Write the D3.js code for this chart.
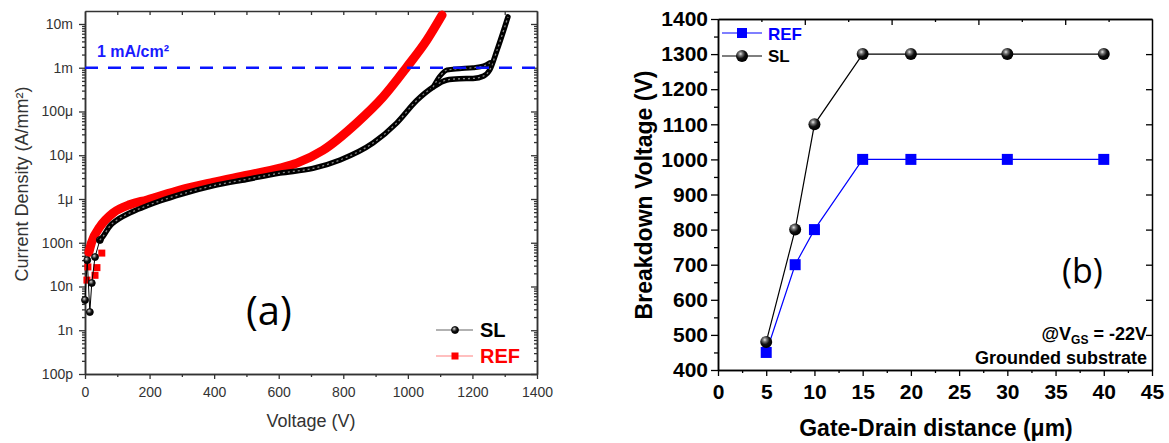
<!DOCTYPE html>
<html><head><meta charset="utf-8">
<script src="https://cdn.jsdelivr.net/npm/d3@7"></script>
<style>body{margin:0;background:#fff;} svg{display:block;font-family:"Liberation Sans",Arial,sans-serif;}</style>
</head><body><svg id="c" width="1169" height="443"></svg>
<script>
// ---------- Panel (a) data: J-V curves ----------
const refV = [12, 20, 46, 87, 140, 192, 294, 396, 502, 604, 656, 737, 842, 923, 997, 1059, 1106];
const refJ = [6e-8, 1e-7, 2.3e-7, 4.8e-7, 7.5e-7, 9.5e-7, 1.6e-6, 2.4e-6, 3.5e-6, 5.1e-6, 6.6e-6, 1.3e-5, 5.5e-5, 2.14e-4, 1.04e-3, 4.3e-3, 1.6e-2];
const refScatterV = [6, 9, 31, 37, 52];
const refScatterJ = [1.4e-8, 2.8e-8, 1.8e-8, 2.7e-8, 5.8e-8];

const slEarlyV = [0, 7, 15, 21, 31, 46];
const slEarlyJ = [4.9e-9, 4.0e-8, 2.6e-9, 1.2e-8, 4.7e-8, 1.15e-7];
const slV = [46, 56, 77, 99, 149, 192, 232, 300, 396, 500, 604, 706, 790, 892, 966, 1028, 1078, 1121, 1160, 1202, 1235, 1254, 1276, 1300, 1310];
const slJ = [1.15e-7, 1.4e-7, 2.4e-7, 3.3e-7, 5.2e-7, 7e-7, 9e-7, 1.3e-6, 2.0e-6, 2.8e-6, 3.9e-6, 5.0e-6, 7.8e-6, 1.9e-5, 5.5e-5, 1.8e-4, 3.6e-4, 5.25e-4, 5.6e-4, 5.7e-4, 6.5e-4, 9e-4, 2.5e-3, 8.5e-3, 1.45e-2];
const slUpV = [1078, 1100, 1121, 1160, 1202, 1235, 1254];
const slUpJ = [3.6e-4, 6.5e-4, 8.9e-4, 9.5e-4, 1.0e-3, 1.1e-3, 1.3e-3];

const xTicksA = [0, 200, 400, 600, 800, 1000, 1200, 1400];
const yTicksA = [1e-10, 1e-9, 1e-8, 1e-7, 1e-6, 1e-5, 1e-4, 1e-3, 1e-2];
const yTickLabelsA = ["100p", "1n", "10n", "100n", "1μ", "10μ", "100μ", "1m", "10m"];
const limitJ = 1e-3;

// ---------- Panel (b) data: breakdown voltage ----------
const gd = [5, 8, 10, 15, 20, 30, 40];
const bvRef = [450, 700, 800, 1000, 1000, 1000, 1000];
const bvSL = [480, 800, 1100, 1300, 1300, 1300, 1300];
const xTicksB = [0, 5, 10, 15, 20, 25, 30, 35, 40, 45];
const yTicksB = [400, 500, 600, 700, 800, 900, 1000, 1100, 1200, 1300, 1400];

const svg = d3.select('#c');
const defs = svg.append('defs');
const g = defs.append('radialGradient').attr('id', 'sph').attr('cx', 0.38).attr('cy', 0.32).attr('r', 0.65);
g.append('stop').attr('offset', '0%').attr('stop-color', '#e8e8e8');
g.append('stop').attr('offset', '25%').attr('stop-color', '#777');
g.append('stop').attr('offset', '60%').attr('stop-color', '#111');
g.append('stop').attr('offset', '100%').attr('stop-color', '#000');

// ================= Panel (a) =================
const xA = d3.scaleLinear().domain([0, 1400]).range([85, 537]);
const yA = d3.scaleLog().domain([1e-10, 0.0198]).range([374, 11]);
const A = svg.append('g');
const gray = '#333';

function styleAxis(sel, color, fs, weight) {
  sel.selectAll('path').attr('stroke', color).attr('stroke-width', 1.5);
  sel.selectAll('line').attr('stroke', color).attr('stroke-width', 1.3);
  sel.selectAll('text').attr('fill', color).attr('font-size', fs).attr('font-weight', weight || 'normal')
    .attr('font-family', '"Liberation Sans",Arial,sans-serif');
}
const minorA = [];
for (let e = -10; e < -1; e++) for (let k = 2; k <= 9; k++) { const v = k * Math.pow(10, e); if (v < 0.0198) minorA.push(v); }
const xMinorA = d3.range(100, 1400, 200);
const xAllA = d3.range(100, 1400, 100);

// bottom
A.append('g').attr('transform', 'translate(0,374)')
  .call(d3.axisBottom(xA).tickValues(xTicksA).tickSize(5).tickPadding(8).tickSizeOuter(0).tickFormat(d3.format('d')))
  .call(s => styleAxis(s, gray, 14));
A.append('g').attr('transform', 'translate(0,374)')
  .call(d3.axisBottom(xA).tickValues(xMinorA).tickSize(3).tickFormat('').tickSizeOuter(0))
  .call(s => styleAxis(s, gray, 14));
// top (inward)
A.append('g').attr('transform', 'translate(0,11)')
  .call(d3.axisBottom(xA).tickValues(xAllA).tickSize(4).tickFormat('').tickSizeOuter(0))
  .call(s => styleAxis(s, gray, 14));
// left
A.append('g').attr('transform', 'translate(85,0)')
  .call(d3.axisLeft(yA).tickValues(yTicksA).tickSize(6).tickPadding(6).tickSizeOuter(0)
    .tickFormat((d, i) => yTickLabelsA[i]))
  .call(s => styleAxis(s, gray, 14));
A.append('g').attr('transform', 'translate(85,0)')
  .call(d3.axisLeft(yA).tickValues(minorA).tickSize(3).tickFormat('').tickSizeOuter(0))
  .call(s => styleAxis(s, gray, 14));
// right (inward)
A.append('g').attr('transform', 'translate(537,0)')
  .call(d3.axisLeft(yA).tickValues(yTicksA).tickSize(6).tickFormat('').tickSizeOuter(0))
  .call(s => styleAxis(s, gray, 14));
A.append('g').attr('transform', 'translate(537,0)')
  .call(d3.axisLeft(yA).tickValues(minorA).tickSize(3).tickFormat('').tickSizeOuter(0))
  .call(s => styleAxis(s, gray, 14));

// axis titles
A.append('text').attr('x', 311).attr('y', 427).attr('text-anchor', 'middle')
  .attr('font-size', 18).attr('fill', gray).text('Voltage (V)');
A.append('text').attr('transform', 'translate(28,184) rotate(-90)').attr('text-anchor', 'middle')
  .attr('font-size', 18).attr('fill', gray).text('Current Density (A/mm²)');

// curves
const lineA = d3.line().x(d => xA(d[0])).y(d => yA(d[1])).curve(d3.curveMonotoneX);
const refPts = refV.map((v, i) => [v, refJ[i]]);
const slPts = slV.map((v, i) => [v, slJ[i]]);
const slUpPts = slUpV.map((v, i) => [v, slUpJ[i]]);
const slEarlyPts = slEarlyV.map((v, i) => [v, slEarlyJ[i]]);

A.append('path').attr('d', lineA(refPts)).attr('fill', 'none').attr('stroke', '#ff0000').attr('stroke-width', 9)
  .attr('stroke-linecap', 'round');
A.selectAll('.rsq').data(refScatterV.map((v, i) => [v, refScatterJ[i]])).enter().append('rect')
  .attr('x', d => xA(d[0]) - 3.5).attr('y', d => yA(d[1]) - 3.5).attr('width', 7).attr('height', 7).attr('fill', '#ff0000');

const lineLin = d3.line().x(d => xA(d[0])).y(d => yA(d[1]));
A.append('path').attr('d', lineLin(slEarlyPts)).attr('fill', 'none').attr('stroke', '#000').attr('stroke-width', 1);
A.selectAll('.scir').data(slEarlyPts).enter().append('circle')
  .attr('cx', d => xA(d[0])).attr('cy', d => yA(d[1])).attr('r', 3.5).attr('fill', 'url(#sph)').attr('stroke', '#000').attr('stroke-width', 0.8);
[slPts, slUpPts].forEach((pts, k) => {
  A.append('path').attr('d', lineA(pts)).attr('fill', 'none').attr('stroke', '#000').attr('stroke-width', k ? 5 : 5.5).attr('stroke-linecap', 'round');
  A.append('path').attr('d', lineA(pts)).attr('fill', 'none').attr('stroke', '#888').attr('stroke-width', 1.3).attr('stroke-dasharray', '2,3');
});

// 1 mA/cm2 line
A.append('line').attr('x1', 85).attr('x2', 541).attr('y1', yA(limitJ)).attr('y2', yA(limitJ))
  .attr('stroke', '#0a14ff').attr('stroke-width', 2.5).attr('stroke-dasharray', '13,10');
A.append('text').attr('x', 97).attr('y', 57).attr('font-size', 16).attr('font-weight', 'bold').attr('fill', '#1a1aff').text('1 mA/cm²');

// legend
const legA = [{ name: 'SL', color: '#000', line: '#666', y: 330, ty: 337, m: 'c' }, { name: 'REF', color: '#ff0000', line: '#ff8080', y: 356, ty: 363, m: 's' }];
legA.forEach(l => {
  A.append('line').attr('x1', 436).attr('x2', 473).attr('y1', l.y).attr('y2', l.y).attr('stroke', l.line).attr('stroke-width', 1.2);
  if (l.m === 'c') A.append('circle').attr('cx', 455).attr('cy', l.y).attr('r', 3.5).attr('fill', 'url(#sph)').attr('stroke', '#000').attr('stroke-width', 0.8);
  else A.append('rect').attr('x', 451.5).attr('y', l.y - 3.5).attr('width', 7).attr('height', 7).attr('fill', '#ff0000');
  A.append('text').attr('x', 480).attr('y', l.ty).attr('font-size', 20).attr('font-weight', 'bold').attr('fill', l.color).text(l.name);
});
A.append('text').attr('x', 246).attr('y', 325).attr('font-size', 40).attr('font-family', '"Open Sans",sans-serif').attr('fill', '#000').text('(a)');

// ================= Panel (b) =================
const xB = d3.scaleLinear().domain([0, 45]).range([718, 1152]);
const yB = d3.scaleLinear().domain([400, 1400]).range([370, 19]);
const xTop = d3.scaleLinear().domain([0, 10]).range([718, 1152]);
const B = svg.append('g');
B.append('g').attr('transform', 'translate(0,370)')
  .call(d3.axisBottom(xB).tickValues(xTicksB).tickSize(6).tickPadding(8).tickSizeOuter(0).tickFormat(d3.format('d')))
  .call(s => styleAxis(s, '#000', 21, 'bold'));
B.append('g').attr('transform', 'translate(0,370)')
  .call(d3.axisBottom(xB).tickValues(d3.range(2.5, 45, 5)).tickSize(3).tickFormat('').tickSizeOuter(0))
  .call(s => styleAxis(s, '#000', 21));
B.append('g').attr('transform', 'translate(0,19)')
  .call(d3.axisBottom(xTop).tickValues([2, 4, 6, 8]).tickSize(6).tickFormat('').tickSizeOuter(0))
  .call(s => styleAxis(s, '#000', 21));
B.append('g').attr('transform', 'translate(0,19)')
  .call(d3.axisBottom(xTop).tickValues([1, 3, 5, 7, 9]).tickSize(3).tickFormat('').tickSizeOuter(0))
  .call(s => styleAxis(s, '#000', 21));
B.append('g').attr('transform', 'translate(718,0)')
  .call(d3.axisLeft(yB).tickValues(yTicksB).tickSize(7).tickPadding(3).tickSizeOuter(0).tickFormat(d3.format('d')))
  .call(s => styleAxis(s, '#000', 21, 'bold'));
B.append('g').attr('transform', 'translate(718,0)')
  .call(d3.axisLeft(yB).tickValues(d3.range(450, 1400, 100)).tickSize(4).tickFormat('').tickSizeOuter(0))
  .call(s => styleAxis(s, '#000', 21));
B.append('g').attr('transform', 'translate(1152,0)')
  .call(d3.axisRight(yB).tickValues(yTicksB.slice(1, -1)).tickSize(-6).tickFormat('').tickSizeOuter(0))
  .call(s => styleAxis(s, '#000', 21));

B.append('text').attr('x', 936).attr('y', 436).attr('text-anchor', 'middle').attr('font-size', 23)
  .attr('font-weight', 'bold').text('Gate-Drain distance (μm)');
B.append('text').attr('transform', 'translate(652,195) rotate(-90)').attr('text-anchor', 'middle')
  .attr('font-size', 23).attr('font-weight', 'bold').text('Breakdown Voltage (V)');

const lineB = d3.line().x(d => xB(d[0])).y(d => yB(d[1]));
const refB = gd.map((v, i) => [v, bvRef[i]]);
const slB = gd.map((v, i) => [v, bvSL[i]]);
B.append('path').attr('d', lineB(refB)).attr('fill', 'none').attr('stroke', '#0000ff').attr('stroke-width', 1.2);
B.append('path').attr('d', lineB(slB)).attr('fill', 'none').attr('stroke', '#000').attr('stroke-width', 1.2);
B.selectAll('.bsq').data(refB).enter().append('rect')
  .attr('x', d => xB(d[0]) - 5.5).attr('y', d => yB(d[1]) - 5.5).attr('width', 11).attr('height', 11).attr('fill', '#0000ff');
B.selectAll('.bci').data(slB).enter().append('circle')
  .attr('cx', d => xB(d[0])).attr('cy', d => yB(d[1])).attr('r', 6).attr('fill', 'url(#sph)');

// legend (b)
B.append('line').attr('x1', 722).attr('x2', 762).attr('y1', 33).attr('y2', 33).attr('stroke', '#0000ff').attr('stroke-width', 1.2);
B.append('rect').attr('x', 737).attr('y', 28).attr('width', 10).attr('height', 10).attr('fill', '#0000ff');
B.append('text').attr('x', 768).attr('y', 39.5).attr('font-size', 17).attr('font-weight', 'bold').attr('fill', '#0000ff').text('REF');
B.append('line').attr('x1', 722).attr('x2', 762).attr('y1', 56).attr('y2', 56).attr('stroke', '#000').attr('stroke-width', 1.2);
B.append('circle').attr('cx', 742).attr('cy', 56).attr('r', 6).attr('fill', 'url(#sph)');
B.append('text').attr('x', 768).attr('y', 62).attr('font-size', 17).attr('font-weight', 'bold').attr('fill', '#000').text('SL');

B.append('text').attr('x', 1062).attr('y', 283).attr('font-size', 34).attr('font-family', '"Open Sans",sans-serif').text('(b)');
const t1 = B.append('text').attr('x', 1147).attr('y', 340).attr('text-anchor', 'end').attr('font-size', 18).attr('font-weight', 'bold');
t1.append('tspan').text('@V');
t1.append('tspan').attr('font-size', 12).attr('dy', 4).text('GS');
t1.append('tspan').attr('dy', -4).text(' = -22V');
B.append('text').attr('x', 1147).attr('y', 364).attr('text-anchor', 'end').attr('font-size', 18).attr('font-weight', 'bold').text('Grounded substrate');
</script></body></html>
